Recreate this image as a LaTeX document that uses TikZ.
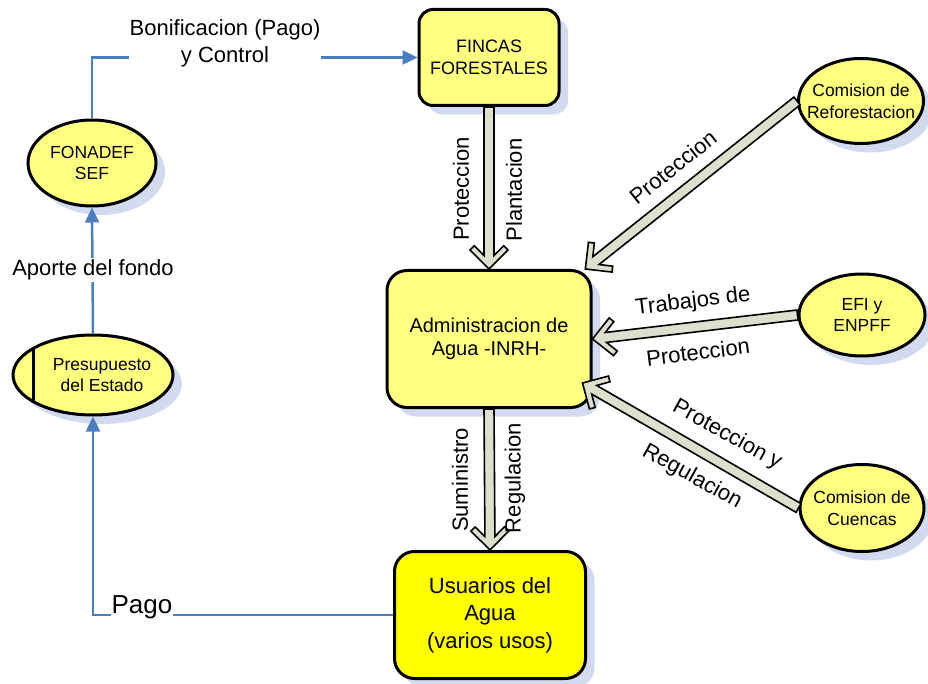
\documentclass[tikz,border=0pt]{standalone}
\usepackage{fontspec}
\setmainfont{Liberation Sans}
\usetikzlibrary{calc,shadows,arrows.meta,shapes.geometric}

\definecolor{amarillo}{RGB}{255,255,128}
\definecolor{amarillofuerte}{RGB}{255,255,0}
\definecolor{azulflujo}{RGB}{74,126,190}
\definecolor{grisflecha}{RGB}{221,224,204}
\definecolor{sombra}{RGB}{204,214,236}

\tikzset{
  caja/.style={draw, line width=3pt, rounded corners=16pt, fill=amarillo, align=center,
    drop shadow={shadow xshift=9pt, shadow yshift=-9pt, fill=sombra, opacity=0.9},
    font=\fontsize{18}{21.5}\selectfont},
  actor/.style={ellipse, draw, line width=3pt, fill=amarillo, inner sep=0pt,
    drop shadow={shadow xshift=9pt, shadow yshift=-9pt, fill=sombra, opacity=0.9}},
  textoactor/.style={align=center, font=\fontsize{17.5}{21.5}\selectfont},
  flujo/.style={draw=azulflujo, line width=2.5pt, -{Triangle[length=15pt,width=14pt]}},
  corte/.style={fill=white, inner xsep=1pt, inner ysep=2pt, align=center,
    font=\fontsize{22}{27}\selectfont},
  rotulo/.style={align=center, font=\fontsize{22}{27}\selectfont},
  grueso/.style={draw=black, line width=1.6pt, fill=grisflecha, line join=miter},
}

\newcommand\flechagruesa[2]{%
  \filldraw[grueso]
    ($(#1)!5pt!90:(#2)$) --
    ($(#2)!13.5pt!(#1)!5pt!90:(#2)$) --
    ($(#2)!23.2pt!(#1)!14.8pt!90:(#2)$) --
    ($(#2)!19pt!(#1)!19pt!90:(#2)$) --
    (#2) --
    ($(#2)!19pt!(#1)!19pt!-90:(#2)$) --
    ($(#2)!23.2pt!(#1)!14.8pt!-90:(#2)$) --
    ($(#2)!13.5pt!(#1)!5pt!-90:(#2)$) --
    ($(#1)!5pt!-90:(#2)$) -- cycle;}

\begin{document}
\begin{tikzpicture}[x=1pt,y=-1pt]
    \useasboundingbox (0,0) rectangle (928,684);

    \node[caja, minimum width=140pt, minimum height=96pt, rounded corners=14pt] (fincas) at (489,57.5) {FINCAS\\FORESTALES};
    \node[caja, minimum width=204pt, minimum height=137pt, rounded corners=20pt,
      font=\fontsize{20}{23}\selectfont] (admin) at (489,339) {Administracion de\\Agua -INRH-};
    \node[caja, minimum width=191pt, minimum height=127pt, rounded corners=20pt, fill=amarillofuerte,
      font=\fontsize{22}{27.5}\selectfont] (usuarios) at (490,615) {Usuarios del\\Agua\\(varios usos)};

    \node[actor, minimum width=128pt, minimum height=86pt,
      label={[textoactor]center:FONADEF\\SEF}] (fonadef) at (92,163) {};
    \node[actor, minimum width=160pt, minimum height=80pt,
      label={[textoactor, xshift=9pt]center:Presupuesto\\del Estado}] (presupuesto) at (93,375) {};
    \draw[line width=3pt] ($(presupuesto.center)+(-60,-26.5)$) -- ($(presupuesto.center)+(-60,26.5)$);

    \node[actor, minimum width=125pt, minimum height=85pt,
      label={[textoactor]center:Comision de\\Reforestacion}] (reforestacion) at (861,101) {};
    \node[actor, minimum width=126pt, minimum height=82pt,
      label={[textoactor]center:EFI y\\ENPFF}] (efi) at (862,315) {};
    \node[actor, minimum width=124pt, minimum height=87pt,
      label={[textoactor]center:Comision de\\Cuencas}] (cuencas) at (862,508) {};

    \draw[flujo] (fonadef.north) |- (fincas.west);
    \node[corte, inner ysep=0pt] (bonificacion) at (225,43.5) {Bonificacion (Pago)\\y Control};
    \draw[flujo] (presupuesto.north) -- (fonadef.south);
    \node[corte] (aporte) at (93,270) {Aporte del fondo};
    \draw[flujo] (usuarios.west) -| (presupuesto.south);
    \node[corte, anchor=base, font=\fontsize{26}{30}\selectfont, inner ysep=1pt] (pago) at (142,613) {Pago};

    \coordinate (llegadacuencas) at ($(admin.east)+(-10,44)$);
    \flechagruesa{fincas.south}{admin.north}
    \flechagruesa{admin.south}{usuarios.north}
    \flechagruesa{reforestacion.west}{admin.36}
    \flechagruesa{efi.west}{admin.east}
    \flechagruesa{cuencas.west}{llegadacuencas}

    \node[rotulo, rotate=90] (protfincas) at (461,189) {Proteccion};
    \node[rotulo, rotate=90] (plantacion) at (514,190) {Plantacion};
    \node[rotulo, rotate=90] (suministro) at (460,480) {Suministro};
    \node[rotulo, rotate=90] (regadmin) at (515,478) {Regulacion};
    \node[rotulo, rotate=38.5] (protrefor) at (673,167) {Proteccion};
    \node[rotulo, rotate=7] (trabajos) at (693,302) {Trabajos de};
    \node[rotulo, rotate=7] (protefi) at (698,352) {Proteccion};
    \node[rotulo, rotate=-29] (protcuencas) at (727,435) {Proteccion y};
    \node[rotulo, rotate=-29] (regcuencas) at (692,477) {Regulacion};
\end{tikzpicture}
\end{document}
